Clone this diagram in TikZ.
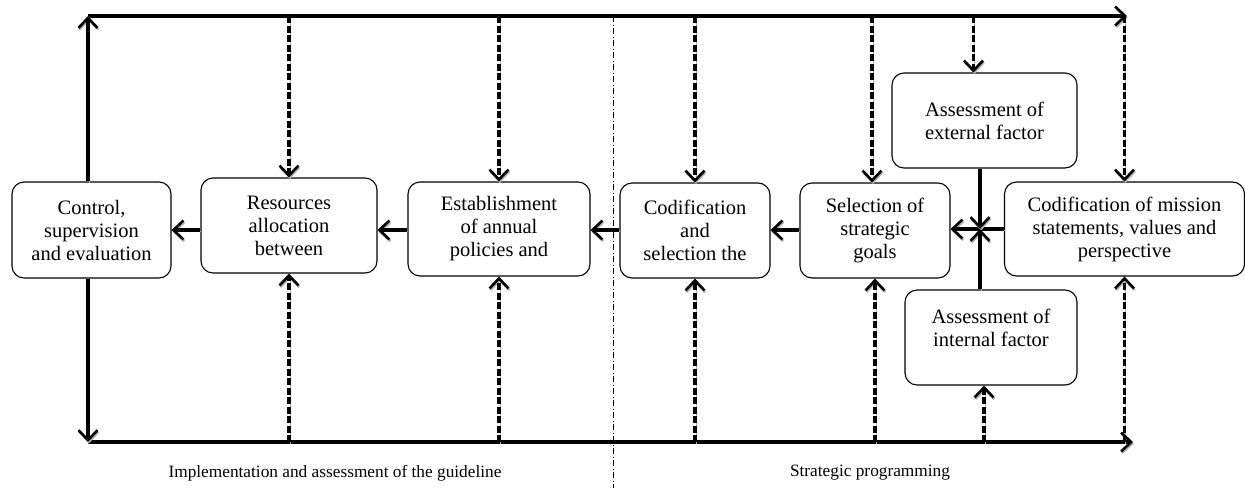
\documentclass[tikz,border=0pt]{standalone}
\usepackage{fontspec}
\setmainfont{Liberation Serif}
\usetikzlibrary{arrows.meta}

\begin{document}
\begin{tikzpicture}[x=1pt,y=-1pt,
  box/.style={draw,rounded corners=12pt,line width=1.1pt,align=center,inner sep=0pt,
    font=\fontsize{20.5}{23}\selectfont},
  tip/.style={-{Straight Barb[length=10pt,width=19pt,line width=2.6pt]}},
  shd/.style={preaction={draw=gray!60,solid,transform canvas={shift={(0.8pt,-1.6pt)}}}},
  bar/.style={shd,line width=3.6pt},
  flow/.style={shd,tip,line width=3.2pt},
  dflow/.style={shd,tip,line width=3.2pt,dash pattern=on 7pt off 2.5pt},
  lab/.style={font=\fontsize{17.3}{20}\selectfont}]
\useasboundingbox (0,0) rectangle (1245,488);

\node [box,minimum width=159,minimum height=96] (ctrl) at (91.5,230) {Control,\\supervision\\and evaluation};
\node [box,minimum width=176,minimum height=95] (res) at (289,225.5) {Resources\\allocation\\between};
\node [box,minimum width=182,minimum height=94] (est) at (499,229) {Establishment\\of annual\\policies and};
\node [box,minimum width=150,minimum height=95] (cod) at (695,230.5) {Codification\\and\\selection the};
\node [box,minimum width=150,minimum height=95] (sel) at (875,230.5) {Selection of\\strategic\\goals};
\node [box,minimum width=240,minimum height=94] (mis) at (1124.5,229) {Codification of mission\\statements, values and\\perspective};
\node [box,minimum width=185,minimum height=95] (ext) at (984.5,120.5) {Assessment of\\external factor};
\node [box,minimum width=172,minimum height=95] (int) at (991,337.5) {Assessment of\\internal factor\\[-4pt]};

\coordinate (tl) at (88,16);
\coordinate (tr) at (1127,16);
\coordinate (bl) at (88,442);
\coordinate (br) at (1133,442);
\coordinate (x) at (980,229);

\draw [bar,tip] (tl) -- (tr);
\draw [bar,tip] (bl) -- (br);
\draw [flow] (tl |- ctrl.north) -- (tl);
\draw [flow] (tl |- ctrl.south) -- (bl);

\draw [dflow] (res.north |- tl) -- (res.north);
\draw [dflow] (est.north |- tl) -- (est.north);
\draw [dflow] (cod.north |- tl) -- (cod.north);
\draw [dflow] ([xshift=-3]sel.north |- tl) -- ([xshift=-3]sel.north);
\draw [dflow] ([xshift=-11]ext.north |- tl) -- ([xshift=-11]ext.north);
\draw [dflow] (mis.north |- tl) -- (mis.north);

\draw [dflow] (res.south |- bl) -- (res.south);
\draw [dflow] (est.south |- bl) -- (est.south);
\draw [dflow] (cod.south |- bl) -- (cod.south);
\draw [dflow] (sel.south |- bl) -- (sel.south);
\draw [dflow] ([xshift=-7]int.south |- bl) -- ([xshift=-7]int.south);
\draw [dflow] (mis.south |- bl) -- (mis.south);

\draw [flow] (res.west |- ctrl.east) -- (ctrl.east);
\draw [flow] (est.west |- ctrl.east) -- (res.east |- ctrl.east);
\draw [flow] (cod.west |- ctrl.east) -- (est.east |- ctrl.east);
\draw [flow] (sel.west |- ctrl.east) -- (cod.east |- ctrl.east);
\draw [flow] (mis.west |- x) -- (sel.east |- x);
\draw [flow] (ext.south -| x) -- (x);
\draw [flow] (int.north -| x) -- (x);

\draw [line width=0.7pt,dash pattern=on 6pt off 2.5pt on 1pt off 2.5pt] (613,16) -- (613,488);

\node [lab] (impl) at (335,473) {Implementation and assessment of the guideline};
\node [lab] (prog) at (870,473) {Strategic programming};
\end{tikzpicture}
\end{document}
